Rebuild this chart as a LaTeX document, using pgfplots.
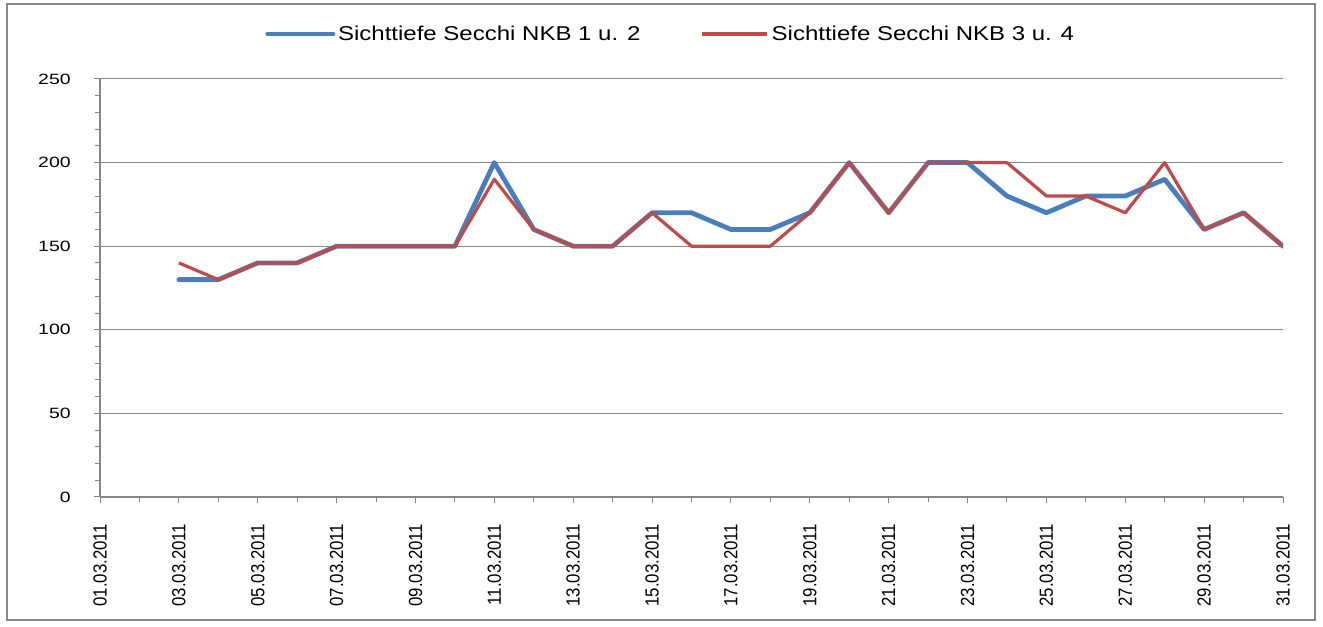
\documentclass[border=0pt]{standalone}
\usepackage{pgfplots}
\pgfplotsset{compat=1.18}
\usepackage{fontspec}
\setmainfont{Liberation Sans}
\newfontfamily\wideA{Liberation Sans}[FakeStretch=1.3]
\newfontfamily\wideB{Liberation Sans}[FakeStretch=1.2]
\definecolor{sblue}{HTML}{4A7EBB}
\definecolor{sred}{HTML}{BE4B48}
\definecolor{ggrey}{HTML}{868686}
\newcommand\dl[1]{\scalebox{1}[1.13]{#1}}
\pgfplotstableread{
x blue red
3 130 140
4 130 130
5 140 140
6 140 140
7 150 150
8 150 150
9 150 150
10 150 150
11 200 190
12 160 160
13 150 150
14 150 150
15 170 170
16 170 150
17 160 150
18 160 150
19 170 170
20 200 200
21 170 170
22 200 200
23 200 200
24 180 200
25 170 180
26 180 180
27 180 170
28 190 200
29 160 160
30 170 170
31 150 150
}\datatable
\begin{document}
\begin{tikzpicture}
\useasboundingbox (-75pt,-97.5pt) rectangle (917.25pt,372.75pt);
\begin{axis}[
  scale only axis,
  width=887.25pt, height=313.5pt,
  xmin=1, xmax=31, ymin=0, ymax=250,
  axis x line*=bottom, axis y line*=left,
  axis line style={draw=ggrey, line width=0.9pt, -},
  xtick={1,3,...,31},
  xticklabels={\dl{01.03.2011},\dl{03.03.2011},\dl{05.03.2011},\dl{07.03.2011},\dl{09.03.2011},\dl{11.03.2011},\dl{13.03.2011},\dl{15.03.2011},\dl{17.03.2011},\dl{19.03.2011},\dl{21.03.2011},\dl{23.03.2011},\dl{25.03.2011},\dl{27.03.2011},\dl{29.03.2011},\dl{31.03.2011}},
  minor x tick num=1,
  ytick={0,50,...,250},
  minor y tick num=4,
  tick align=outside,
  tick style={color=ggrey, line width=0.75pt},
  major tick length=4.5pt,
  minor tick length=4pt,
  ymajorgrids,
  grid style={color=ggrey, line width=0.75pt},
  /pgf/number format/assume math mode=true,
  yticklabel style={font=\wideA\fontsize{11.2}{13}\selectfont},
  yticklabel shift=14pt,
  xticklabel style={font=\fontsize{12.6}{14}\selectfont, rotate=90, anchor=east},
  xticklabel shift=12pt,
  legend columns=2,
  legend style={at={(0.4827,1.1077)}, anchor=center, draw=none, fill=none,
    font=\wideB\fontsize{15}{17}\selectfont,
    /tikz/every even column/.append style={column sep=43pt},
    inner sep=0pt},
  legend image code/.code={\draw[#1] (0pt,0pt) -- (49pt,0pt);},
  line join=round,
]
\addplot[sblue, line width=3.6pt, line cap=round] table[x=x, y=blue] {\datatable};
\addlegendentry{Sichttiefe Secchi NKB 1 u. 2}
\addplot[sred, line width=2.4pt] table[x=x, y=red] {\datatable};
\addlegendentry{Sichttiefe Secchi NKB 3 u. 4}
\end{axis}
\draw[ggrey, line width=1.1pt] (-69.75pt,-92.25pt) rectangle (911.25pt,369.75pt);
\end{tikzpicture}
\end{document}
